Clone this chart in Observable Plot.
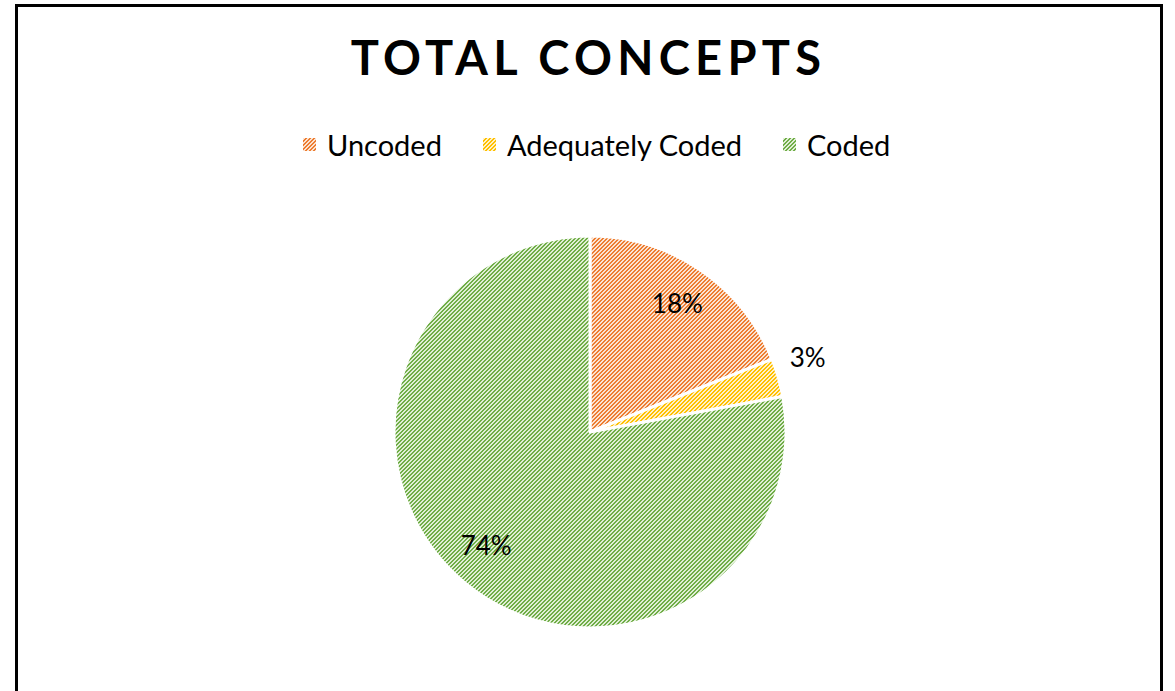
<!DOCTYPE html>
<html>
<head>
<meta charset="utf-8">
<script src="https://cdn.jsdelivr.net/npm/d3@7"></script>
<script src="https://cdn.jsdelivr.net/npm/@observablehq/plot@0.6"></script>
<style>
  html, body { margin: 0; padding: 0; background: #fff; width: 1175px; height: 691px; overflow: hidden; font-family: Lato, "Noto Sans", sans-serif; }
  #frame { position: absolute; left: 15px; top: 4px; width: 1142px; height: 700px; border: 3px solid #000; box-sizing: content-box; }
  #title { position: absolute; left: 0; width: 1175px; top: 27px; text-align: center; font-weight: 700; font-size: 47px; letter-spacing: 5.3px; line-height: 60px; color: #000; padding-left: 2px; box-sizing: border-box; }
  #legend { position: absolute; left: 0; width: 1175px; top: 124px; height: 40px; }
  .item { position: absolute; top: 0; height: 40px; display: flex; align-items: center; font-size: 29px; color: #000; white-space: nowrap; }
  .item svg { margin-right: 11px; }
  #chart { position: absolute; left: 0; top: 180px; }
</style>
</head>
<body>
<svg width="0" height="0" style="position:absolute">
  <defs id="patdefs"></defs>
</svg>
<div id="frame"></div>
<div id="title"></div>
<div id="legend"></div>
<div id="chart"></div>
<script>
// ---- data ----
const categories = ["Uncoded", "Adequately Coded", "Coded"];
const values = [18, 3, 74];
const valueLabels = ["18%", "3%", "74%"];
const darkColors = ["#ED7D31", "#FFC000", "#70AD47"];
const lightColors = ["#FBE3D2", "#FFF1C8", "#E0EFD6"];
const titleText = "TOTAL CONCEPTS";

// ---- patterns: 4x4 pixel tile, upward diagonal stripes 2px wide ----
const defs = d3.select("#patdefs");
const tileCells = [[2,0],[3,0],[1,1],[2,1],[0,2],[1,2],[3,3],[0,3]];
categories.forEach((c, i) => {
  const p = defs.append("pattern")
    .attr("id", "pat" + i)
    .attr("patternUnits", "userSpaceOnUse")
    .attr("width", 4).attr("height", 4);
  p.append("rect").attr("width", 4).attr("height", 4).attr("fill", lightColors[i]).attr("shape-rendering", "crispEdges");
  tileCells.forEach(([cx, cy]) => {
    p.append("rect").attr("x", cx).attr("y", cy).attr("width", 1).attr("height", 1)
      .attr("fill", darkColors[i]).attr("shape-rendering", "crispEdges");
  });
});

const table = categories.map((c, i) => ({category: c, value: values[i], label: valueLabels[i], pid: "pat" + i}));

// ---- title & legend ----
document.getElementById("title").textContent = titleText;
const legendX = [303, 483, 783];
const legend = d3.select("#legend");
table.forEach((d, i) => {
  const it = legend.append("div").attr("class", "item").style("left", legendX[i] + "px");
  const s = it.append("svg").attr("width", 13).attr("height", 13);
  s.append("rect").attr("width", 13).attr("height", 13).attr("fill", `url(#${d.pid})`);
  it.append("span").text(d.category);
});

// ---- pie geometry in data units ----
const arcs = d3.pie().sort(null).value(d => d.value)(table);
const labelData = arcs.map(a => {
  const mid = (a.startAngle + a.endAngle) / 2;
  const frac = (a.endAngle - a.startAngle) / (2 * Math.PI);
  const outside = frac < 0.05;
  const rr = outside ? 1.17 : 0.79;
  const ang = outside ? mid - 0.045 : (mid > Math.PI ? mid + 0.045 : mid);
  return {label: a.data.label, x: Math.sin(ang) * rr, y: Math.cos(ang) * rr};
});

function pieMark(index, scales) {
  const {x, y} = scales;
  const cx = x(0), cy = y(0), r = x(1) - x(0);
  const g = d3.create("svg:g").attr("transform", `translate(${cx},${cy})`);
  g.selectAll("path").data(arcs).join("path")
    .attr("d", d3.arc().innerRadius(0).outerRadius(r))
    .attr("fill", d => `url(#${d.data.pid})`)
    .attr("stroke", "#fff")
    .attr("stroke-width", 3)
    .attr("stroke-linejoin", "round");
  return g.node();
}

const cy = 432 - 180, r = 196;
const chart = Plot.plot({
  width: 1175,
  height: 511,
  margin: 0,
  style: {background: "transparent", overflow: "visible"},
  x: {domain: [-1, 1], range: [590 - r, 590 + r], axis: null},
  y: {domain: [-1, 1], range: [cy + r, cy - r], axis: null},
  marks: [
    pieMark,
    Plot.text(labelData, {x: "x", y: "y", text: "label", fontSize: 26, fill: "#000", fontFamily: "Lato, 'Noto Sans', sans-serif"})
  ]
});
document.getElementById("chart").appendChild(chart);
</script>
</body>
</html>
